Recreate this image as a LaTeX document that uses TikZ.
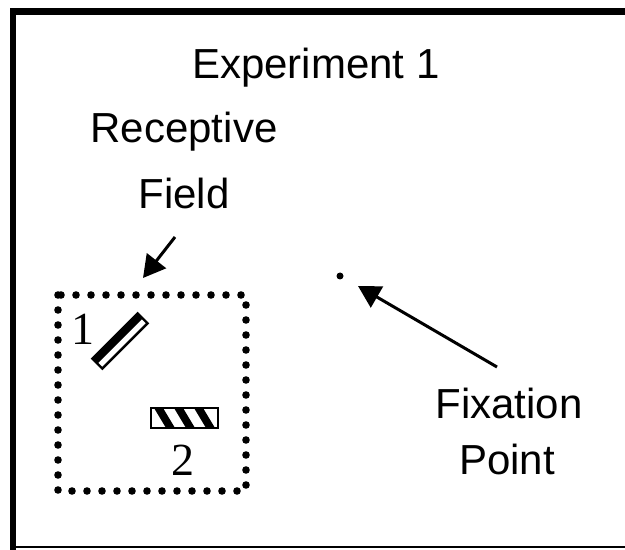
\documentclass[tikz,border=0pt]{standalone}
\usepackage{fontspec}
\setmainfont{Liberation Sans}
\newfontfamily\numfont{Liberation Serif}
\usetikzlibrary{arrows.meta,positioning,calc}

\begin{document}
\begin{tikzpicture}[x=0.5pt, y=-0.5pt, line join=miter,
  label text/.style={font=\fontsize{21}{25}\selectfont, inner sep=0pt, align=center},
  bar num/.style={font=\numfont\fontsize{23}{25}\selectfont, inner sep=0pt},
  rf box/.style={line width=3.8pt, line cap=round, dash pattern=on 0pt off 7.5pt},
  pointer/.style={line width=1.5pt, -{Triangle[length=11pt, width=12pt]}}]
\useasboundingbox (0,0) rectangle (625,550);
% frame
\draw[line width=3.5pt] (10,12) -- (625,12);
\draw[line width=3pt] (13,9) -- (13,550);
\draw[line width=1pt] (13,547) -- (625,547);
\begin{scope}[every node/.style={label text}]
\node[anchor=base] (exp) at (316,79) {Experiment 1};
\node[anchor=base] (rf1) at (184,143) {Receptive};
\node[anchor=base] (rf2) at (184,209) {Field};
\node[anchor=base] (fix1) at (509,418) {Fixation};
\node[anchor=base] (fix2) at (507,474) {Point};
\end{scope}
\node[bar num] (num1) at (83,329) {1};
\node[bar num] (num2) at (183,460) {2};
% receptive field
\draw[rf box] (58,295) rectangle (246,491);
% bar 1
\begin{scope}[shift={(120,341)}, rotate=45]
\fill (-32,-7) rectangle (32,0);
\draw[line width=1.2pt] (-32,-7) rectangle (32,7);
\end{scope}
% bar 2
\begin{scope}
\clip (151,408) rectangle (218,428);
\foreach \s in {154,174,194}
  \fill (\s,408) -- (\s+9,408) -- (\s+21,428) -- (\s+12,428) -- cycle;
\end{scope}
\draw[line width=1.2pt] (151,408) rectangle (218,428);
% fixation point
\fill (340,276) circle (3.5);
\coordinate (fixtail) at (497,367);
\coordinate (fixtip) at (358,286);
\coordinate (rftail) at (175,237);
\coordinate (rftip) at (143,278);
\draw[pointer] (fixtail) -- (fixtip);
\draw[pointer] (rftail) -- (rftip);
\end{tikzpicture}
\end{document}
